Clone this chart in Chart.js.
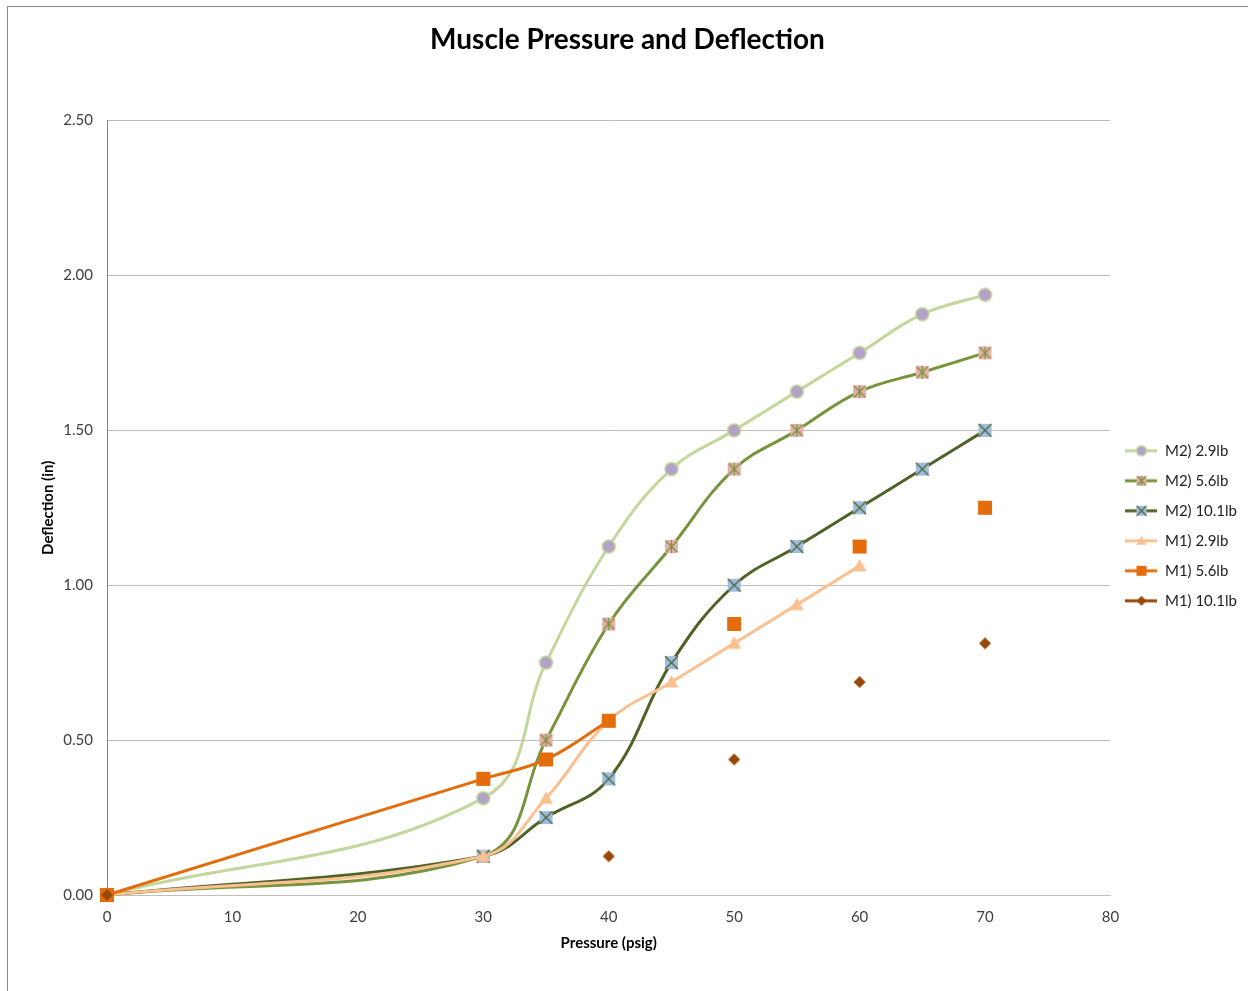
<!DOCTYPE html>
<html>
<head>
<meta charset="utf-8">
<title>Muscle Pressure and Deflection</title>
<script src="https://cdn.jsdelivr.net/npm/chart.js@4.4.1/dist/chart.umd.min.js"></script>
<style>
  html,body{margin:0;padding:0;background:#fff;}
  #frame{position:absolute;left:7px;top:6px;width:1241px;height:985px;border-left:1px solid #8a8a8a;border-top:1px solid #8a8a8a;}
  #wrap{position:absolute;left:8px;top:7px;width:1240px;height:984px;}
</style>
</head>
<body>
<div id="frame"></div>
<div id="wrap"><canvas id="c"></canvas></div>
<script>
// data (deflection in inches at each pressure, null = not measured)
const pressure = [0, 30, 35, 40, 45, 50, 55, 60, 65, 70];
const m2_29  = [0, 0.3125, 0.75,   1.125,  1.375,  1.5,    1.625,  1.75,   1.875,  1.9375];
const m2_56  = [0, 0.125,  0.5,    0.875,  1.125,  1.375,  1.5,    1.625,  1.6875, 1.75];
const m2_101 = [0, 0.125,  0.25,   0.375,  0.75,   1.0,    1.125,  1.25,   1.375,  1.5];
const m1_29  = [0, 0.125,  0.3125, 0.5625, 0.6875, 0.8125, 0.9375, 1.0625, null,   null];
const m1_56  = [0, 0.375,  0.4375, 0.5625, null,   0.875,  null,   1.125,  null,   1.25];
const m1_101 = [0, null,   null,   0.125,  null,   0.4375, null,   0.6875, null,   0.8125];
const seriesNames = ['M2) 2.9lb', 'M2) 5.6lb', 'M2) 10.1lb', 'M1) 2.9lb', 'M1) 5.6lb', 'M1) 10.1lb'];
const xTicks = {min: 0, max: 80, step: 10};
const yTicks = {min: 0, max: 2.5, step: 0.5};

const FONT = 'Lato, "Open Sans", sans-serif';

// marker drawing (Excel style markers)
function drawMarker(g, kind, cx, cy, s){
  const h = s/2;
  g.save();
  if (kind==='circle'){
    g.beginPath(); g.arc(cx,cy,h,0,Math.PI*2);
    g.fillStyle='#b3a2c7'; g.fill();
    g.lineWidth=1.5; g.strokeStyle='#c3d69b'; g.stroke();
  } else if (kind==='star' || kind==='cross'){
    g.fillStyle = kind==='star' ? '#e6b0ac' : '#9dbde2';
    g.fillRect(cx-h,cy-h,s,s);
    g.strokeStyle = kind==='star' ? '#77933c' : '#4f6228';
    g.lineWidth=1.2;
    g.beginPath();
    const k = kind==='star' ? h*0.85 : h;
    g.moveTo(cx-k,cy-k); g.lineTo(cx+k,cy+k);
    g.moveTo(cx+k,cy-k); g.lineTo(cx-k,cy+k);
    if (kind==='star'){ g.moveTo(cx,cy-h); g.lineTo(cx,cy+h); }
    g.stroke();
  } else if (kind==='tri'){
    g.beginPath(); g.moveTo(cx,cy-h); g.lineTo(cx+h,cy+h*0.8); g.lineTo(cx-h,cy+h*0.8); g.closePath();
    g.fillStyle='#fac090'; g.fill();
  } else if (kind==='square'){
    g.fillStyle='#e46c0a'; g.fillRect(cx-h,cy-h,s,s);
  } else if (kind==='diamond'){
    g.beginPath(); g.moveTo(cx,cy-h); g.lineTo(cx+h,cy); g.lineTo(cx,cy+h); g.lineTo(cx-h,cy); g.closePath();
    g.fillStyle='#984807'; g.fill();
  }
  g.restore();
}
function markerCanvas(kind, s){
  const c=document.createElement('canvas'); c.width=s+4; c.height=s+4;
  drawMarker(c.getContext('2d'), kind, (s+4)/2, (s+4)/2, s);
  return c;
}
function legendCanvas(kind, color, s){
  const c=document.createElement('canvas'); c.width=32; c.height=14;
  const g=c.getContext('2d');
  g.strokeStyle=color; g.lineWidth=3;
  g.beginPath(); g.moveTo(0,7); g.lineTo(32,7); g.stroke();
  drawMarker(g, kind, 16, 7, s);
  return c;
}

const styles = [
  {color:'#c3d69b', kind:'circle',  size:13},
  {color:'#77933c', kind:'star',    size:13},
  {color:'#4f6228', kind:'cross',   size:13},
  {color:'#fac090', kind:'tri',     size:14},
  {color:'#e46c0a', kind:'square',  size:14},
  {color:'#984807', kind:'diamond', size:12},
];
const values = [m2_29, m2_56, m2_101, m1_29, m1_56, m1_101];

const datasets = values.map((arr,i)=>({
  label: seriesNames[i],
  data: pressure.map((x,j)=>({x, y: arr[j]})),
  borderColor: styles[i].color,
  backgroundColor: styles[i].color,
  borderWidth: 3,
  tension: 0.4,
  spanGaps: false,
  pointStyle: markerCanvas(styles[i].kind, styles[i].size),
  pointRadius: 6,
  pointHoverRadius: 6,
  order: values.length - i,
  clip: 10,
  legendIcon: legendCanvas(styles[i].kind, styles[i].color, 10),
}));

new Chart(document.getElementById('c'), {
  type: 'line',
  data: {datasets},
  options: {
    responsive: true, maintainAspectRatio: false, animation: false,
    layout: {padding: {left: 0, right: 1, top: 0, bottom: 0}},
    plugins: {
      title: {display: true, text: 'Muscle Pressure and Deflection', color: '#000',
        font: {family: FONT, size: 28, weight: 'bold'}, padding: {top: 16, bottom: 64}},
      legend: {
        position: 'right', align: 'center', fullSize: false,
        title: {display: true, text: ' ', font: {size: 10}, padding: {top: 0, bottom: 24}},
        labels: {
          usePointStyle: true, pointStyleWidth: 32, padding: 15, color: '#1f1f1f',
          font: {family: FONT, size: 15},
          sort: (a,b)=>a.datasetIndex-b.datasetIndex,
          generateLabels: (chart)=>Chart.defaults.plugins.legend.labels.generateLabels(chart)
            .map(it=>({...it, pointStyle: chart.data.datasets[it.datasetIndex].legendIcon})),
        },
      },
      tooltip: {enabled: false},
    },
    scales: {
      x: {
        type: 'linear', min: xTicks.min, max: xTicks.max,
        ticks: {stepSize: xTicks.step, color: '#404040', padding: 13, font: {family: FONT, size: 15}},
        grid: {display: false, drawTicks: false},
        border: {display: true, color: '#bfbfbf'},
        title: {display: true, text: 'Pressure (psig)', color: '#000', font: {family: FONT, size: 15, weight: 'bold'}, padding: {top: 4, bottom: 39}},
        afterFit: (s)=>{ s.height = 96; },
      },
      y: {
        min: yTicks.min, max: yTicks.max,
        ticks: {stepSize: yTicks.step, color: '#404040', padding: 14, font: {family: FONT, size: 15},
          callback: (v)=>Number(v).toFixed(2)},
        grid: {color: '#bcbcbc', drawTicks: false},
        border: {display: true, color: '#868686'},
        title: {display: true, text: 'Deflection (in)', color: '#000', font: {family: FONT, size: 15, weight: 'bold'}, padding: {top: 31, bottom: 4}},
        afterFit: (s)=>{ s.width = 99; },
      },
    },
  },
});
</script>
</body>
</html>
